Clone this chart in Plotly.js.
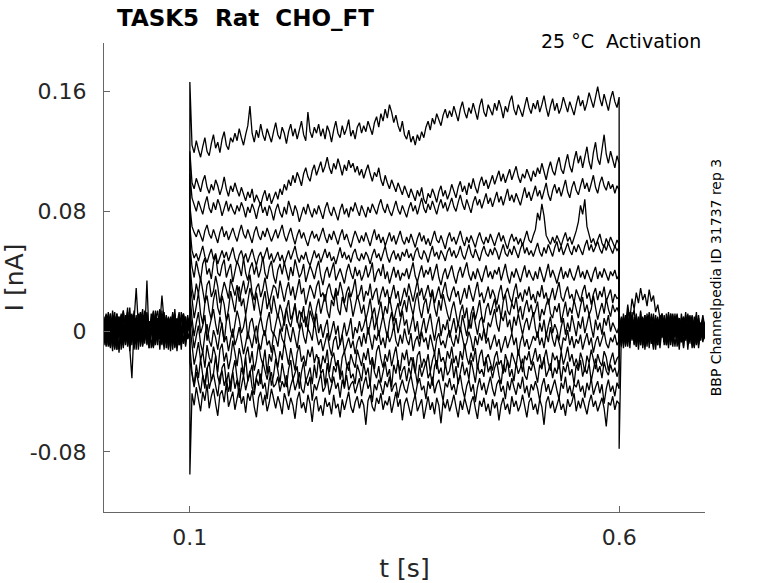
<!DOCTYPE html>
<html>
<head>
<meta charset="utf-8">
<script src="https://cdn.plot.ly/plotly-3.0.1.min.js"></script>
<style>
  html, body { margin: 0; padding: 0; background: #fff; }
  #chart { width: 778px; height: 583px; }
</style>
</head>
<body>
<div id="chart"></div>
<script>
/* TASK5 activation sweeps - currents, in pA (plotted as nA) */

const T_START = 0, T_ON = 0.1, T_OFF = 0.6, T_END = 0.7;
const X_TICKS = [0.1, 0.6];
const X_TICK_TEXT = ['0.1', '0.6'];
const Y_TICKS = [-0.08, 0, 0.08, 0.16];
const Y_TICK_TEXT = ['-0.08', '0', '0.08', '0.16'];

// holding segment, 0 .. 0.1 s
const prePulse = [
  [3, -9, 11, -4, 7, -12, 2, 10, -6, 5, -2, 13, -8, 4, -10, 9, -3, 12, -6, 7, 0, -11, 8, -2, 14, -5, 3, -9, 10, -1, 6, -13, 9, 2, -7, 11, -4, 8, -10, 5, 0],
  [-5, 8, -1, 12, -10, 4, -7, 9, 1, -11, 6, -4, 10, -2, 14, -8, 3, -6, 11, -3, 7, -9, 2, 13, -5, 9, -12, 4, -1, 10, -7, 3, 12, -4, 8, -9, 1, 11, -6, 2, 1],
  [8, -3, 6, -10, 2, 13, -7, -1, 10, -5, 3, 16, -9, 6, -2, 11, -12, 4, 8, -6, 12, -3, 7, -10, 1, 9, -5, 14, -2, 6, -11, 3, 10, -7, 5, -2, 13, -8, 4, -4, -1],
  [-2, 11, -7, 3, -13, 6, 1, -4, 12, 2, -9, 5, -3, 9, -6, 1, 10, -10, 3, 13, -5, 7, -2, 11, -8, 4, 15, -3, 8, -11, 2, 9, -5, 12, -1, 6, -9, 3, 10, -4, 1],
  [6, -6, 1, 10, -3, -11, 7, 3, -8, 14, -2, 8, -13, 0, 7, 29, 4, -1, -9, 5, 11, -6, 3, -10, 9, 2, -5, 12, -3, 7, -12, 5, -4, 15, -7, 10, -3, 6, -9, 8, -2],
  [-9, 4, 13, -5, 8, 1, -12, 5, 11, -3, 7, -10, 4, 12, -5, 9, 2, -7, 10, -4, 6, -11, 3, 14, -6, 8, -2, 11, -9, 4, 9, -6, 13, 1, -8, 6, -3, 10, -5, 7, 3],
  [1, -4, 8, -1, 11, -9, 4, -14, 6, 9, -6, 1, -11, -31, 3, -7, 6, 13, -3, 8, -8, 4, -1, 12, -6, 2, 10, 5, 9, -3, 7, -10, 2, 11, -5, 4, -12, 8, 1, 9, -1],
  [4, 12, -5, 6, -2, 10, -7, 2, -4, 13, 0, -9, 6, 11, -3, 8, -6, 4, 15, -2, 34, -5, 3, -8, 12, 1, -4, 7, -10, 5, 9, 6, -2, 10, -7, 3, -5, 11, -3, 6, 2],
  [-7, 2, -10, 8, 4, -5, 12, -2, 7, -9, 5, 11, -4, 3, -12, 6, -2, 12, -7, 9, -3, 7, -11, 4, 10, -5, 2, -8, 13, -1, 6, -4, 9, -10, 3, 7, -6, 12, -2, 8, -3],
  [10, -2, 6, -7, 14, 3, -4, 8, -12, 1, 9, -5, 16, -3, 5, -8, 12, 0, -5, 14, -9, 3, 8, -2, 11, -6, 4, 24, 7, 1, -4, 10, -7, 5, -13, 2, -8, 6, -3, 11, 1],
  [-3, 6, -9, 2, -6, 10, -1, -10, 5, 14, -7, 3, -2, 8, -11, 4, -4, 9, -10, 2, 7, -5, 12, -3, 5, -9, 8, 2, -6, 11, -2, 6, -12, 4, 9, -4, 1, -8, 10, -5, -2],
  [2, -10, 4, 12, -3, 7, -12, 6, 0, -6, 11, -1, 7, -9, 10, 1, -7, 13, 4, -8, 10, -3, 5, -11, 8, 14, -5, 2, 9, -7, 4, -2, 11, -9, 6, 1, -6, 12, -3, 4, 0],
  [-1, 8, -4, -11, 9, -2, 5, 10, -8, 3, -4, 13, -6, 2, 9, -12, 5, -3, 8, 11, -7, 4, -2, 9, -9, 6, 12, -4, 3, -8, 10, -1, 7, -11, 5, 13, -5, 2, -7, 9, 2],
  [7, -5, 3, 9, -8, 0, 12, -3, 4, -6, 8, -2, -9, 11, -5, 7, -1, 10, -6, 3, 13, -7, 5, -10, 2, 9, -4, 6, -12, 8, -1, 4, 10, -6, 3, -9, 7, 12, -2, 5, -1],
];

// test pulse, 0.1 .. 0.6 s (one row per sweep, top to bottom)
const pulse = [
  [166,
    124, 119, 127, 121, 116, 123, 129, 120, 117, 125, 131, 122, 126, 119, 128, 133, 124, 121, 129, 126,
    132, 127, 135, 129, 124, 131, 137, 150, 132, 126, 134, 129, 138, 131, 127, 135, 130, 126, 133, 139,
    131, 128, 136, 132, 125, 133, 138, 130, 135, 128, 134, 140, 131, 127, 146, 133, 129, 136, 132, 138,
    130, 135, 128, 137, 133, 126, 134, 140, 132, 129, 137, 131, 135, 141, 130, 134, 128, 136, 139, 132,
    137, 133, 140, 135, 131, 139, 143, 136, 145, 140, 148, 142, 151, 146, 139, 144, 137, 133, 140, 131,
    128, 134, 126, 130, 124, 131, 127, 133, 129, 136, 140, 134, 142, 138, 145, 141, 137, 144, 148, 142,
    147, 143, 150, 145, 140, 148, 153, 146, 142, 149, 145, 152, 147, 141, 150, 155, 146, 143, 151, 148,
    144, 152, 147, 154, 149, 142, 150, 146, 153, 157, 148, 144, 151, 147, 143, 150, 156, 149, 145, 152,
    148, 154, 146, 151, 157, 149, 143, 150, 155, 147, 152, 145, 149, 156, 151, 146, 153, 148, 144, 151,
    157, 150, 154, 147, 152, 159, 153, 149, 156, 163, 155, 150, 158, 152, 147, 155, 160, 153, 149, 156],
  [120,
    99, 95, 102, 97, 93, 100, 104, 96, 92, 98, 94, 101, 97, 91, 96, 103, 95, 90, 97, 93,
    99, 94, 90, 96, 92, 87, 93, 89, 95, 86, 91, 88, 84, 90, 94, 87, 92, 85, 89, 93,
    88, 95, 91, 98, 94, 101, 97, 104, 99, 106, 102, 97, 105, 109, 103, 100, 107, 111, 104, 108,
    113, 106, 110, 116, 109, 105, 112, 108, 115, 110, 104, 111, 107, 114, 109, 112, 106, 110, 104, 108,
    102, 107, 111, 105, 100, 106, 103, 109, 101, 97, 104, 99, 95, 101, 97, 93, 99, 95, 91, 97,
    93, 89, 95, 91, 87, 94, 90, 96, 88, 85, 92, 89, 95, 91, 86, 93, 97, 90, 94, 88,
    92, 98, 94, 89, 96, 100, 93, 97, 91, 99, 95, 102, 96, 92, 99, 103, 97, 101, 95, 100,
    104, 98, 102, 107, 100, 105, 99, 103, 108, 101, 106, 110, 103, 99, 105, 102, 108, 104, 100, 107,
    103, 109, 105, 112, 106, 101, 108, 113, 107, 104, 111, 116, 108, 105, 112, 118, 110, 106, 114, 120,
    112, 117, 109, 115, 123, 113, 108, 119, 126, 115, 111, 121, 131, 118, 112, 120, 114, 109, 117, 112],
  [105,
    89, 84, 80, 87, 83, 78, 85, 90, 82, 79, 86, 81, 88, 84, 77, 83, 87, 80, 85, 81,
    78, 84, 80, 86, 82, 76, 83, 79, 85, 81, 75, 82, 86, 79, 83, 77, 84, 80, 74, 81,
    85, 79, 76, 83, 78, 87, 81, 77, 84, 80, 73, 79, 83, 78, 85, 80, 76, 82, 78, 84,
    79, 75, 82, 86, 80, 77, 83, 79, 74, 81, 85, 78, 82, 76, 83, 80, 86, 81, 77, 84,
    80, 76, 83, 79, 85, 81, 78, 84, 88, 82, 79, 85, 80, 77, 83, 87, 81, 78, 84, 80,
    76, 82, 86, 80, 84, 78, 83, 89, 82, 79, 85, 81, 87, 83, 78, 84, 88, 82, 86, 80,
    84, 89, 83, 80, 86, 91, 85, 81, 88, 84, 79, 86, 90, 84, 88, 82, 87, 92, 85, 89,
    83, 88, 93, 86, 90, 84, 89, 95, 87, 91, 86, 92, 88, 84, 90, 96, 89, 93, 87, 92,
    97, 90, 94, 88, 93, 99, 91, 87, 94, 98, 92, 96, 90, 95, 101, 93, 89, 96, 100, 94,
    91, 97, 102, 95, 99, 93, 98, 104, 96, 92, 99, 103, 97, 94, 100, 95, 98, 92, 97, 94],
  [84,
    70, 66, 63, 68, 64, 60, 67, 71, 65, 62, 68, 64, 59, 66, 70, 63, 67, 61, 65, 69,
    64, 60, 66, 71, 65, 62, 68, 63, 59, 66, 70, 64, 61, 67, 63, 69, 65, 60, 64, 68,
    62, 66, 71, 64, 60, 65, 69, 63, 58, 64, 68, 62, 66, 61, 57, 63, 67, 62, 65, 60,
    64, 69, 63, 59, 65, 61, 67, 62, 58, 64, 68, 61, 65, 60, 56, 62, 67, 63, 59, 64,
    60, 66, 62, 57, 63, 68, 61, 65, 59, 63, 57, 62, 66, 60, 64, 58, 62, 67, 61, 58,
    63, 59, 65, 61, 56, 62, 66, 60, 64, 58, 62, 57, 63, 67, 61, 59, 64, 60, 55, 62,
    66, 60, 63, 58, 62, 67, 61, 57, 63, 59, 64, 60, 56, 62, 66, 61, 58, 63, 59, 65,
    61, 57, 62, 66, 60, 64, 59, 55, 61, 65, 60, 63, 58, 62, 57, 63, 67, 61, 59, 64,
    68, 79, 74, 85, 77, 64, 61, 58, 63, 59, 64, 60, 57, 62, 66, 60, 63, 58, 62, 67,
    73, 84, 78, 88, 70, 64, 59, 62, 57, 61, 65, 59, 56, 62, 58, 63, 60, 56, 61, 58],
  [70,
    54, 49, 52, 47, 53, 57, 50, 46, 51, 55, 48, 52, 45, 50, 54, 49, 53, 47, 51, 56,
    49, 45, 51, 54, 48, 52, 46, 50, 55, 49, 44, 50, 53, 47, 51, 56, 48, 52, 46, 49,
    53, 47, 51, 45, 50, 54, 48, 52, 57, 50, 46, 51, 48, 53, 47, 44, 50, 54, 49, 52,
    46, 51, 55, 49, 53, 47, 50, 45, 51, 56, 49, 53, 48, 51, 46, 52, 55, 49, 47, 52,
    48, 53, 50, 45, 51, 55, 49, 52, 47, 53, 57, 50, 46, 51, 54, 48, 52, 47, 53, 50,
    55, 49, 52, 47, 53, 56, 50, 48, 54, 51, 46, 52, 57, 50, 53, 48, 54, 51, 47, 53,
    56, 50, 54, 49, 52, 57, 51, 48, 54, 58, 52, 49, 55, 51, 47, 53, 57, 52, 50, 55,
    51, 56, 53, 48, 54, 58, 52, 50, 55, 51, 57, 53, 49, 55, 59, 52, 56, 51, 54, 50,
    55, 59, 53, 50, 56, 52, 58, 54, 50, 56, 60, 53, 57, 51, 55, 59, 54, 51, 57, 53,
    58, 55, 51, 57, 61, 54, 58, 53, 56, 60, 55, 52, 58, 54, 59, 56, 52, 57, 54, 56],
  [58,
    43, 36, 47, 40, 34, 45, 49, 38, 42, 35, 46, 51, 39, 37, 44, 48, 36, 41, 45, 33,
    40, 47, 43, 37, 49, 39, 34, 42, 46, 38, 44, 36, 41, 50, 39, 35, 43, 47, 37, 32,
    41, 45, 38, 46, 40, 34, 43, 37, 48, 41, 36, 39, 45, 33, 38, 44, 40, 35, 42, 47,
    37, 31, 39, 43, 36, 41, 46, 34, 38, 42, 37, 32, 40, 45, 39, 35, 43, 37, 41, 34,
    38, 44, 36, 40, 46, 33, 39, 42, 37, 45, 35, 40, 32, 38, 43, 36, 41, 34, 39, 37,
    42, 35, 40, 46, 37, 33, 39, 44, 36, 41, 38, 43, 34, 40, 45, 36, 31, 38, 42, 35,
    40, 44, 37, 32, 39, 43, 36, 41, 46, 38, 34, 40, 35, 42, 37, 33, 39, 44, 36, 40,
    35, 41, 38, 43, 34, 39, 45, 37, 32, 40, 36, 42, 38, 33, 39, 44, 36, 41, 37, 34,
    40, 35, 43, 38, 33, 39, 45, 36, 41, 37, 32, 38, 43, 35, 40, 36, 42, 37, 34, 39,
    44, 36, 40, 35, 41, 37, 33, 39, 43, 35, 40, 36, 42, 38, 34, 40, 37, 41, 35, 38],
  [45,
    29, 21, 32, 25, 36, 28, 19, 31, 34, 23, 27, 37, 30, 19, 26, 33, 28, 22, 35, 29,
    24, 31, 20, 27, 34, 25, 30, 38, 26, 21, 29, 32, 23, 28, 36, 27, 19, 25, 31, 29,
    22, 34, 26, 20, 28, 33, 24, 30, 21, 27, 35, 25, 29, 18, 24, 31, 27, 22, 30, 34,
    23, 26, 20, 28, 32, 25, 21, 29, 24, 33, 27, 19, 26, 30, 23, 28, 35, 22, 25, 31,
    20, 27, 24, 32, 21, 26, 29, 18, 25, 30, 23, 28, 19, 26, 31, 22, 27, 17, 24, 29,
    23, 32, 26, 20, 27, 34, 24, 29, 21, 26, 31, 23, 28, 19, 25, 30, 22, 27, 33, 24,
    20, 26, 30, 23, 27, 18, 24, 29, 22, 31, 25, 20, 27, 33, 23, 26, 19, 25, 30, 22,
    28, 24, 18, 26, 31, 21, 25, 29, 23, 19, 27, 32, 22, 26, 20, 28, 24, 30, 21, 25,
    19, 27, 23, 31, 22, 26, 18, 24, 29, 21, 27, 33, 23, 20, 26, 30, 22, 25, 19, 28,
    24, 20, 27, 31, 22, 26, 18, 25, 29, 21, 27, 23, 30, 20, 24, 28, 19, 25, 22, 23],
  [35,
    22, 9, 17, 26, 12, 5, 19, 24, 14, 8, 21, 28, 16, 11, 24, 18, 7, 15, 27, 20,
    13, 25, 30, 17, 22, 11, 19, 29, 23, 14, 26, 18, 10, 20, 27, 15, 21, 12, 24, 16,
    9, 18, 13, 4, 15, 21, 8, 12, 19, 6, 14, 10, 17, 3, 11, 20, 13, 7, 16, 22,
    12, 19, 25, 14, 9, 21, 17, 27, 15, 11, 23, 18, 13, 26, 20, 10, 16, 24, 19, 12,
    18, 8, 14, 22, 11, 16, 6, 13, 20, 9, 17, 12, 23, 15, 7, 14, 19, 10, 16, 21,
    13, 24, 17, 11, 20, 26, 15, 9, 18, 22, 12, 19, 27, 16, 10, 21, 14, 25, 18, 12,
    7, 15, 20, 11, 4, 13, 18, 9, 16, 2, 12, 17, 8, 14, 21, 10, 6, 15, 19, 11,
    16, 22, 13, 18, 9, 20, 25, 14, 11, 19, 15, 23, 12, 17, 8, 16, 21, 13, 18, 10,
    14, 20, 7, 15, 11, 18, 22, 12, 9, 17, 13, 19, 6, 14, 20, 10, 16, 12, 21, 15,
    9, 17, 23, 13, 18, 11, 15, 24, 16, 8, 14, 19, 12, 22, 15, 10, 18, 13, 16, 12],
  [25,
    9, -3, 6, 13, -1, 4, 11, -6, 2, 8, 15, 5, -2, 10, 3, -7, 7, 12, 1, -4,
    5, 14, 8, -1, 3, 11, -5, 6, 9, 0, -8, 4, 10, 2, -3, 7, 13, 1, -2, 5,
    12, 6, 0, 9, 16, 7, 3, 11, 18, 8, 2, 13, 6, 10, 1, 14, 9, 4, 12, -1,
    5, -4, 3, 8, -6, 1, 7, -2, 4, -9, 0, 6, -3, 2, 9, -5, 3, -1, 7, 0,
    4, 10, -2, 6, 12, 1, 8, -3, 5, 11, 3, -4, 7, 13, 2, 9, -1, 6, 14, 4,
    8, -2, 5, 11, 0, 7, -5, 3, 9, -1, 6, 12, 2, -6, 4, 10, -3, 5, 1, 8,
    -4, 3, 9, -1, 6, 0, 11, 4, -3, 8, 2, 13, 5, -2, 7, 10, 1, -5, 6, 3,
    9, 15, 5, 0, 11, 7, 14, 3, 8, -1, 10, 4, 12, 6, -2, 5, 9, 1, 7, 13,
    2, -4, 6, 0, 8, -3, 4, 10, -1, 5, 1, -6, 3, 9, -2, 6, 0, 11, 4, -3,
    7, 2, 10, -1, 5, 12, 3, -4, 8, 1, 6, -2, 9, 4, 11, 0, 6, 3, -1, 4],
  [15,
    0, -11, -3, 4, -8, -14, -2, 5, -6, -10, 1, -4, -12, -1, 6, -7, -3, -13, -5, 2,
    -9, -4, 3, -6, -15, -8, 0, -5, -11, -2, 4, -7, -12, -3, 1, -9, -6, -14, -1, -4,
    -10, 2, -5, -8, 5, -2, -7, 3, -4, -11, 0, 6, -3, -8, 2, -1, -6, 7, -2, -9,
    -5, -13, -7, -1, -10, -16, -6, -3, -12, -8, -2, -14, -9, -4, -11, -6, -15, -7, -3, -10,
    -1, -8, 3, -5, -12, -2, -6, 1, -9, -4, -11, 0, -7, -3, 4, -6, -10, -2, -8, 2,
    -5, -9, -1, -13, -6, -3, -10, 0, -7, -4, -12, -2, -8, -15, -5, -1, -9, -6, -11, -3,
    1, -6, -10, -2, -8, 3, -4, -11, -7, 0, -5, -13, -3, -9, -1, -6, 2, -8, -4, -12,
    -7, -2, -10, -5, -14, -8, -3, -11, -6, -1, -9, -4, -16, -7, -2, -10, -5, -12, -8, -3,
    -6, 0, -9, -4, -11, -1, -7, 3, -5, -10, -2, -8, -13, -4, -6, 1, -9, -3, -11, -5,
    -8, -2, -12, -6, -1, -9, -4, -14, -7, -3, -10, -5, 0, -8, -11, -4, -7, -2, -9, -6],
  [5,
    -11, -22, -15, -7, -19, -13, -24, -9, -17, -21, -10, -16, -27, -12, -8, -20, -14, -25, -18, -6,
    -14, -23, -11, -18, -29, -16, -10, -21, -13, -26, -19, -8, -17, -22, -12, -28, -15, -20, -9, -18,
    -24, -13, -19, -7, -15, -22, -11, -18, -26, -14, -9, -20, -16, -23, -12, -17, -10, -21, -15, -19,
    -25, -16, -21, -12, -27, -18, -14, -23, -19, -29, -17, -13, -22, -26, -15, -20, -24, -12, -18, -23,
    -14, -19, -11, -22, -17, -25, -13, -9, -18, -24, -15, -20, -12, -23, -16, -10, -21, -26, -14, -19,
    -12, -23, -17, -21, -28, -16, -13, -24, -18, -22, -15, -27, -19, -14, -25, -11, -20, -17, -23, -13,
    -18, -10, -21, -16, -24, -13, -19, -8, -17, -22, -14, -20, -11, -25, -16, -12, -23, -18, -15, -21,
    -26, -17, -13, -22, -19, -28, -15, -20, -24, -14, -18, -23, -12, -21, -27, -16, -19, -13, -22, -17,
    -11, -20, -15, -24, -18, -12, -21, -26, -14, -19, -16, -25, -13, -22, -17, -10, -20, -15, -23, -18,
    -24, -14, -19, -27, -16, -21, -12, -18, -25, -15, -20, -23, -13, -17, -26, -19, -14, -22, -18, -16],
  [-10,
    -27, -36, -22, -31, -18, -29, -38, -25, -20, -33, -28, -16, -30, -35, -24, -21, -34, -27, -40, -26,
    -19, -31, -37, -24, -29, -17, -33, -28, -22, -39, -30, -25, -35, -20, -27, -32, -23, -36, -29, -18,
    -26, -34, -21, -30, -37, -25, -19, -32, -28, -23, -38, -27, -20, -33, -29, -24, -35, -22, -31, -17,
    -28, -25, -36, -21, -30, -34, -23, -27, -19, -32, -26, -38, -24, -20, -31, -28, -35, -22, -27, -33,
    -21, -29, -24, -36, -18, -27, -31, -23, -34, -26, -20, -30, -25, -37, -22, -28, -19, -32, -26, -23,
    -33, -24, -29, -17, -27, -35, -22, -30, -25, -20, -31, -27, -36, -23, -19, -28, -24, -33, -21, -29,
    -26, -18, -31, -23, -35, -27, -20, -29, -24, -32, -19, -26, -34, -22, -28, -25, -30, -17, -27, -23,
    -31, -24, -20, -29, -35, -22, -27, -19, -30, -25, -33, -21, -28, -24, -18, -29, -32, -23, -26, -20,
    -28, -34, -22, -25, -17, -30, -26, -21, -31, -24, -28, -19, -33, -23, -27, -20, -29, -25, -35, -22,
    -26, -19, -30, -24, -28, -21, -33, -25, -18, -27, -23, -31, -20, -26, -29, -22, -27, -24, -30, -25],
  [-95,
    -41, -49, -37, -45, -53, -40, -46, -35, -51, -43, -38, -48, -56, -42, -39, -47, -34, -50, -44, -40,
    -52, -45, -37, -48, -43, -54, -41, -46, -39, -50, -57, -44, -40, -49, -42, -53, -47, -38, -45, -51,
    -43, -48, -55, -41, -46, -52, -44, -49, -58, -45, -40, -51, -47, -54, -42, -48, -60, -46, -43, -53,
    -49, -56, -44, -50, -47, -55, -42, -51, -48, -57, -45, -52, -46, -40, -50, -54, -47, -43, -51, -45,
    -49, -62, -46, -42, -50, -53, -44, -48, -41, -52, -46, -49, -43, -54, -47, -40, -50, -45, -59, -48,
    -44, -51, -56, -47, -42, -53, -49, -45, -58, -50, -43, -52, -47, -55, -44, -49, -61, -46, -51, -45,
    -53, -48, -42, -50, -57, -46, -52, -44, -49, -55, -47, -43, -51, -58, -46, -50, -44, -53, -48, -56,
    -45, -51, -47, -59, -49, -44, -52, -48, -55, -43, -50, -46, -53, -49, -42, -51, -57, -47, -44, -52,
    -48, -55, -45, -50, -62, -47, -43, -51, -46, -54, -49, -44, -52, -48, -56, -45, -50, -47, -41, -53,
    -46, -51, -44, -49, -55, -47, -42, -50, -46, -53, -48, -44, -51, -63, -47, -49, -43, -52, -46, -48],
  [-20,
    -30, -37, -27, -34, -41, -29, -35, -24, -38, -32, -28, -36, -43, -30, -26, -36, -31, -40, -33, -27,
    -38, -32, -44, -35, -29, -39, -33, -26, -37, -42, -31, -36, -28, -38, -34, -45, -32, -27, -37, -35,
    -30, -40, -33, -37, -29, -43, -36, -31, -39, -34, -27, -38, -41, -32, -36, -30, -46, -35, -39, -33,
    -28, -40, -37, -31, -42, -36, -30, -38, -34, -44, -32, -37, -29, -39, -35, -33, -41, -36, -31, -43,
    -35, -30, -38, -34, -47, -35, -39, -32, -36, -42, -33, -37, -30, -40, -36, -34, -44, -37, -32, -38,
    -41, -34, -29, -37, -43, -35, -31, -39, -36, -45, -33, -38, -30, -41, -35, -32, -40, -46, -34, -37,
    -31, -39, -35, -42, -33, -29, -38, -44, -36, -32, -40, -35, -47, -37, -31, -39, -34, -42, -36, -30,
    -38, -43, -35, -32, -40, -36, -45, -33, -39, -31, -37, -42, -34, -38, -30, -41, -36, -44, -35, -39,
    -33, -38, -46, -36, -31, -40, -35, -42, -37, -32, -39, -45, -34, -38, -30, -41, -36, -43, -35, -37,
    -32, -40, -36, -44, -34, -39, -31, -42, -37, -33, -41, -35, -48, -38, -32, -40, -36, -43, -34, -38],
];

// tail after the pulse, 0.6 .. 0.7 s
const postPulse = [
  [2, -6, 9, 3, 14, 8, 22, 15, 26, 19, 29, 21, 25, 17, 28, 20, 24, 13, 18, 9, 12, 3, 8, -4, 6, -2, 10, -5, 7, -1, 9, -6, 4, 11, -3, 6, -8, 5, 2, -4, 1],
  [-3, 8, -4, 11, 3, -7, 6, -2, 12, -5, 4, 9, -6, 2, 13, -3, 7, -9, 5, 10, -1, 6, -8, 3, 12, -4, 8, -10, 2, 9, -3, 11, -6, 4, -2, 10, -7, 5, 1, -5, 2],
  [4, -9, 5, 1, -6, 10, -2, 7, -10, 3, 8, -4, 11, -1, 6, -8, 2, 9, -5, 3, 12, -6, 4, -11, 7, 1, -3, 10, -8, 5, -1, 13, -4, 2, -9, 6, 9, -5, 3, -7, 0],
  [-1, 6, -11, 4, 9, -3, 13, -6, 2, 8, -9, 5, -2, 10, -7, 4, 12, -4, 6, -11, 2, 8, -5, 11, -2, 5, -10, 3, 9, -6, 1, 7, -12, 4, 10, -3, 6, -8, 2, 11, 2],
  [6, -2, 7, -8, 3, 11, -5, 0, 9, -3, 14, -7, 4, -10, 7, 1, -6, 11, -2, 8, -4, 5, -9, 2, 10, -6, 3, 12, -1, 7, -11, 4, -3, 9, -7, 1, 13, -4, 6, -2, -4],
  [-5, 10, 2, -7, 12, -1, 5, -9, 8, 3, -4, 10, -8, 6, -2, 12, -5, 3, -9, 7, 1, 11, -3, 5, -7, 9, -1, 4, -12, 6, 10, -4, 2, -8, 7, 3, -6, 11, -3, 4, 1],
  [3, -7, 12, -4, 6, -11, 8, 15, -3, 9, -6, 2, 11, -5, 8, -3, 6, -12, 4, -3, 9, -7, 2, 13, -5, 6, -2, 10, -9, 3, 7, -4, 11, -1, 5, -10, 8, 2, -6, 4, 5],
  [-8, 4, -3, 9, -10, 5, 1, -6, 11, -2, 7, -9, 3, 8, -11, 5, -1, 9, 2, -7, 6, -4, 12, -2, 4, -8, 10, 1, -5, 7, -3, 9, -9, 3, 6, -2, 11, -6, 1, -3, 3],
  [1, 9, -5, 3, 18, 7, -2, 10, 4, -7, 13, -1, 6, -4, 9, 2, -10, 4, 8, -2, 11, -6, 3, -9, 7, 12, -3, 5, -1, 8, -7, 2, 10, -4, 6, -11, 3, 9, -2, 5, -5],
  [7, -4, 8, -9, 2, -5, 11, -8, 3, 6, -3, 9, -12, 1, 5, -8, 10, -3, -9, 6, 2, -7, 9, -2, 4, -10, 7, 3, -5, 12, -1, 6, -8, 2, 10, -4, 5, -11, 3, 8, 2],
  [-2, 5, -8, 6, -4, 13, -6, 4, -10, 10, 2, -6, 7, -2, 11, -5, 3, 7, -4, 11, -3, 6, -9, 1, 8, -5, 12, -2, 4, -7, 9, -3, 5, 10, -6, 2, -9, 7, -1, 6, -3],
  [5, -10, 3, 11, -7, 1, 9, -4, 6, -12, 4, 8, -5, 12, -3, 6, -7, 1, 10, -6, 3, 9, -2, 7, -9, 4, -4, 11, 2, -7, 5, 10, -3, 6, -11, 1, 8, -5, 3, 9, 0],
  [-78, -2, 6, -10, 5, 9, -3, 7, -6, 2, -9, 6, 3, -5, 8, -1, -12, 5, 2, -8, 10, -4, 6, -2, 12, -7, 3, 9, -5, 1, -10, 7, 4, -3, 11, -6, 2, -9, 6, -1, 1],
  [-4, 3, 10, -2, 8, -8, 3, -1, 9, -5, 7, -11, 2, -7, 4, 10, -2, 6, -4, 2, 4, -9, 8, 1, -6, 11, -3, 5, 9, -7, 3, -2, 12, -5, 4, -10, 6, 1, -4, 8, 4],
];

const FONT = 'DejaVu Sans, sans-serif';
const INK = '#262626';
const AXIS = '#666666';

// evenly spaced sample times across one segment
function segmentTimes(n, t0, t1) {
  const out = [];
  for (let i = 0; i < n; i++) out.push(t0 + (t1 - t0) * i / (n - 1));
  return out;
}

function sweepTrace(k) {
  const pre = prePulse[k], on = pulse[k], post = postPulse[k];
  const x = [
    ...segmentTimes(pre.length, T_START, T_ON),
    ...segmentTimes(on.length, T_ON, T_OFF),
    ...segmentTimes(post.length, T_OFF, T_END),
  ];
  const y = [...pre, ...on, ...post].map(pA => pA / 1000);
  return {
    x, y, type: 'scatter', mode: 'lines',
    line: { color: '#000000', width: 1.3 },
    hoverinfo: 'skip', showlegend: false,
  };
}

const traces = pulse.map((_, k) => sweepTrace(k));

const axisCommon = {
  showgrid: false, zeroline: false,
  showline: true, linecolor: AXIS, linewidth: 1,
  ticks: 'inside', ticklen: 6, tickwidth: 1, tickcolor: AXIS,
  tickfont: { family: FONT, size: 22, color: INK },
  fixedrange: true,
};

Plotly.newPlot('chart', traces, {
  width: 778, height: 583,
  paper_bgcolor: '#ffffff', plot_bgcolor: '#ffffff',
  margin: { l: 104, r: 73, t: 43, b: 71 },
  font: { family: FONT, color: INK },
  title: {
    text: 'TASK5\u00a0\u00a0Rat\u00a0\u00a0CHO_FT',
    font: { family: FONT, size: 23, color: '#000000', weight: 'bold' },
    x: 117 / 778, xanchor: 'left', xref: 'container',
    y: 1 - 18 / 583, yanchor: 'middle', yref: 'container',
  },
  xaxis: {
    ...axisCommon,
    range: [T_START, T_END],
    tickvals: X_TICKS, ticktext: X_TICK_TEXT,
    ticklabelstandoff: 6,
    title: { text: 't [s]', font: { family: FONT, size: 25, color: INK }, standoff: 12 },
  },
  yaxis: {
    ...axisCommon,
    range: [-0.12, 0.192],
    tickvals: Y_TICKS, ticktext: Y_TICK_TEXT,
    ticklabelstandoff: 12,
    title: { text: 'I [nA]', font: { family: FONT, size: 25, color: INK }, standoff: 14 },
  },
  annotations: [
    {
      text: '25 °C\u00a0\u00a0Activation',
      xref: 'paper', yref: 'paper', x: 0.997, y: 1.004,
      xanchor: 'right', yanchor: 'middle', showarrow: false,
      font: { family: FONT, size: 19, color: '#000000' },
    },
    {
      text: 'BBP Channelpedia ID 31737 rep 3',
      xref: 'paper', yref: 'paper', x: 1.018, y: 0.5,
      xanchor: 'center', yanchor: 'middle', textangle: -90, showarrow: false,
      font: { family: FONT, size: 14, color: '#000000' },
    },
  ],
  hovermode: false,
}, { displayModeBar: false, staticPlot: true });
</script>
</body>
</html>
